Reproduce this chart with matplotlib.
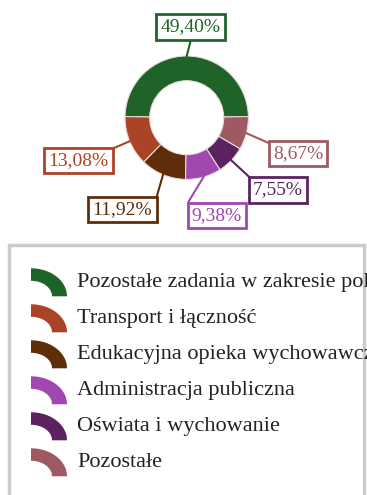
import numpy as np
import matplotlib
matplotlib.use('Agg')
import matplotlib.pyplot as plt
from matplotlib.patches import Rectangle, Polygon

plt.rcParams['font.family'] = ['Liberation Serif', 'DejaVu Serif']

# Budget structure (share of expenditure, %)
categories = [
    'Pozostałe zadania w zakresie polityki społecznej',
    'Transport i łączność',
    'Edukacyjna opieka wychowawcza',
    'Administracja publiczna',
    'Oświata i wychowanie',
    'Pozostałe',
]
shares = [49.40, 13.08, 11.92, 9.38, 7.55, 8.67]
colors = ['#1f6329', '#ab4426', '#5f2d09', '#a048b0', '#5b2262', '#9d5a62']

# label box centres and connector ends (pixels, top-left origin)
label_pos = [(190.5, 27), (78.5, 160.5), (122.5, 209.5), (217, 215.5),
             (278, 190), (298, 153.5)]
conn_end = [(190.7, 40.5), (113.3, 148.3), (156.7, 196.7), (188.5, 201.7),
            (250.7, 178.3), (268.0, 142.7)]

W, H = 367, 495
CX, CY, R, RING = 186.7, 117.7, 61.7, 24.7


def py(y):
    return H - y


fig = plt.figure(figsize=(W / 100, H / 100), dpi=100)
ax = fig.add_axes([0, 0, 1, 1])

start = 90 - shares[0] * 3.6 / 2
wedges, _ = ax.pie(shares, colors=colors, startangle=start, counterclock=True,
                   center=(CX, py(CY)), radius=R,
                   wedgeprops=dict(width=RING, edgecolor='#eadada', linewidth=0.8))

# connectors and value labels
for w, val, col, (lx, ly), (ex, ey) in zip(wedges, shares, colors, label_pos, conn_end):
    mid = np.deg2rad((w.theta1 + w.theta2) / 2)
    sx, sy = CX + R * np.cos(mid), py(CY) + R * np.sin(mid)
    ax.plot([sx, ex], [sy, py(ey)], color=col, linewidth=1.5, zorder=1)
    ax.text(lx, py(ly), f'{val:.2f}%'.replace('.', ','), fontsize=14, color=col,
            ha='center', va='center', zorder=5,
            bbox=dict(boxstyle='square,pad=0.22', facecolor='white',
                      edgecolor=col, linewidth=2))

# legend frame, open at the bottom
frame = Rectangle((8.5, py(H + 10)), 355, H + 10 - 244.5, transform=ax.transData,
                  facecolor='none', edgecolor='none')
ax.add_patch(frame)
ax.plot([8.5, 8.5, 363.5, 363.5], [py(H + 5), py(244.5), py(244.5), py(H + 5)],
        color='#cccccc', linewidth=2.5, solid_joinstyle='miter')


def icon(x0, y_bottom, rx=36, ry=28, irx=21, iry=15.5):
    t = np.linspace(np.pi / 2, 0, 40)
    outer = np.column_stack([x0 + rx * np.cos(t), py(y_bottom - ry * np.sin(t))])
    inner = np.column_stack([x0 + irx * np.cos(t[::-1]), py(y_bottom - iry * np.sin(t[::-1]))])
    return np.vstack([outer, inner])


for i, (name, col) in enumerate(zip(categories, colors)):
    top = 268.3 + i * 36
    ax.add_patch(Polygon(icon(31, top + 28), closed=True, facecolor=col,
                         edgecolor='none'))
    t = ax.text(77, py(top + 19), name, fontsize=16, color='#222222',
                ha='left', va='baseline')
    t.set_clip_path(frame)

ax.set_xlim(0, W)
ax.set_ylim(0, H)
ax.set_aspect('auto')
ax.axis('off')

fig.savefig('out.png', dpi=100)
